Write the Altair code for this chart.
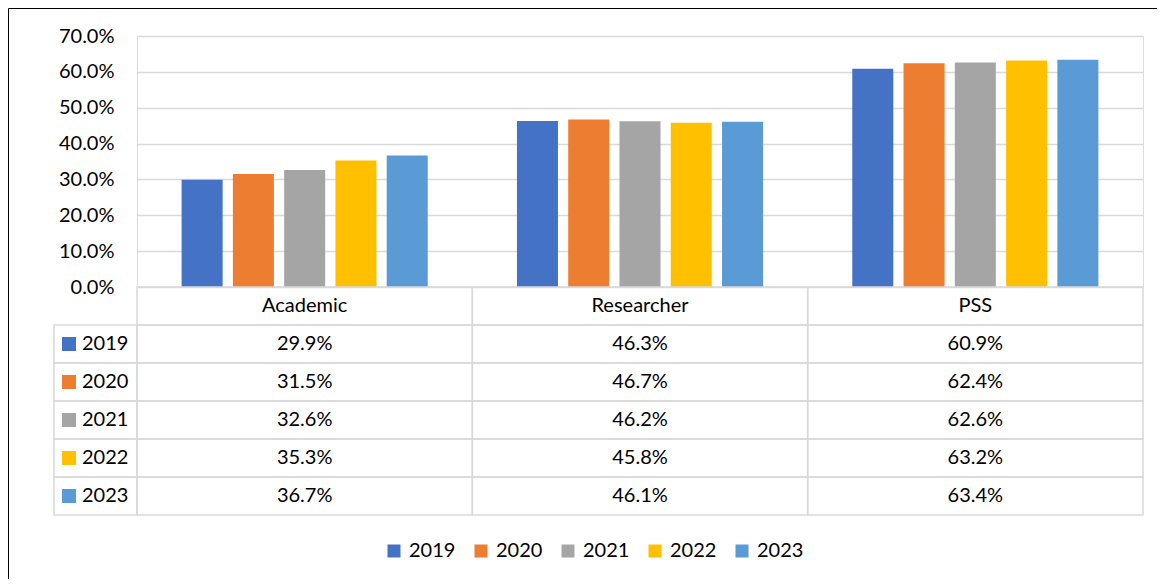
import altair as alt
import pandas as pd

categories = ["Academic", "Researcher", "PSS"]
years = ["2019", "2020", "2021", "2022", "2023"]
values_2019 = [0.299, 0.463, 0.609]
values_2020 = [0.315, 0.467, 0.624]
values_2021 = [0.326, 0.462, 0.626]
values_2022 = [0.353, 0.458, 0.632]
values_2023 = [0.367, 0.461, 0.634]
y_ticks = [0.0, 0.1, 0.2, 0.3, 0.4, 0.5, 0.6, 0.7]
colors = ["#4472C4", "#ED7D31", "#A5A5A5", "#FFC000", "#5B9BD5"]

series = {"2019": values_2019, "2020": values_2020, "2021": values_2021,
          "2022": values_2022, "2023": values_2023}

rows = []
for yr in years:
    for cat, v in zip(categories, series[yr]):
        rows.append({"category": cat, "year": yr, "row": yr, "value": v,
                     "label": f"{v * 100:.1f}%"})
df = pd.DataFrame(rows)
header_df = pd.DataFrame({"category": categories, "row": ["Header"] * 3, "label": categories})
cells_df = pd.concat([header_df[["category", "row"]], df[["category", "row"]]], ignore_index=True)
year_df = pd.DataFrame({"year": years})
one = pd.DataFrame({"a": [0]})

FONT = "Lato"
FS = 20
GRID = "#d9d9d9"

x_scale = alt.Scale(domain=categories, paddingInner=0, paddingOuter=0)
color_scale = alt.Scale(domain=years, range=colors)
row_scale = alt.Scale(domain=["Header"] + years, range=[251, 479], paddingInner=0, paddingOuter=0)

bars = alt.Chart(df).mark_bar().encode(
    x=alt.X("category:N", scale=x_scale, axis=None, sort=categories),
    xOffset=alt.XOffset("year:N", scale=alt.Scale(domain=years, paddingInner=0.2, paddingOuter=0.87)),
    y=alt.Y("value:Q", scale=alt.Scale(domain=[0, 0.7], nice=False),
            axis=alt.Axis(values=y_ticks, format=".1%", title=None, domain=False, ticks=False,
                          labelPadding=23, labelFontSize=FS, labelFont=FONT, labelColor="black",
                          gridColor=GRID, gridWidth=1.5)),
    color=alt.Color("year:N", scale=color_scale,
                    legend=alt.Legend(orient="none", legendX=247, legendY=505, direction="horizontal",
                                      title=None, symbolType="square", symbolSize=169,
                                      symbolStrokeWidth=0, labelFontSize=FS, labelFont=FONT,
                                      labelColor="black", labelOffset=5, columnPadding=15, padding=0)),
)

cells = alt.Chart(cells_df).mark_rect(fillOpacity=0, stroke=GRID, strokeWidth=1.5).encode(
    x=alt.X("category:N", scale=x_scale, axis=None, sort=categories),
    y=alt.Y("row:N", scale=row_scale, axis=None),
)

year_cells = alt.Chart(year_df).mark_rect(fillOpacity=0, stroke=GRID, strokeWidth=1.5).encode(
    x=alt.value(-83), x2=alt.value(0),
    y=alt.Y("year:N", scale=row_scale, axis=None),
)

header_text = alt.Chart(header_df).mark_text(fontSize=FS, font=FONT, color="black").encode(
    x=alt.X("category:N", scale=x_scale, axis=None, sort=categories),
    y=alt.Y("row:N", scale=row_scale, axis=None),
    text="label:N",
)

value_text = alt.Chart(df).mark_text(fontSize=FS, font=FONT, color="black").encode(
    x=alt.X("category:N", scale=x_scale, axis=None, sort=categories),
    y=alt.Y("row:N", scale=row_scale, axis=None),
    text="label:N",
)

swatches = alt.Chart(year_df).mark_point(shape="square", filled=True, size=196, opacity=1).encode(
    x=alt.value(-68),
    y=alt.Y("year:N", scale=row_scale, axis=None),
    color=alt.Color("year:N", scale=color_scale, legend=None),
)

year_text = alt.Chart(year_df).mark_text(fontSize=FS, font=FONT, color="black", align="left").encode(
    x=alt.value(-55),
    y=alt.Y("year:N", scale=row_scale, axis=None),
    text="year:N",
)

border_left = alt.Chart(one).mark_rule(color="black", strokeWidth=1).encode(
    x=alt.value(-128.5), y=alt.value(-27.5), y2=alt.value(560))
border_top = alt.Chart(one).mark_rule(color="black", strokeWidth=1).encode(
    x=alt.value(-128.5), x2=alt.value(1030), y=alt.value(-27.5))

chart = alt.layer(
    bars, cells, year_cells, header_text, value_text, swatches, year_text, border_left, border_top
).resolve_scale(y="independent").properties(
    width=1006, height=251,
    padding={"left": 129, "top": 28, "right": 14, "bottom": 292},
    autosize=alt.AutoSizeParams(type="none"),
).configure_view(stroke=None).configure(font=FONT)

chart.save("out.html", embed_options={"renderer": "svg", "actions": False})
